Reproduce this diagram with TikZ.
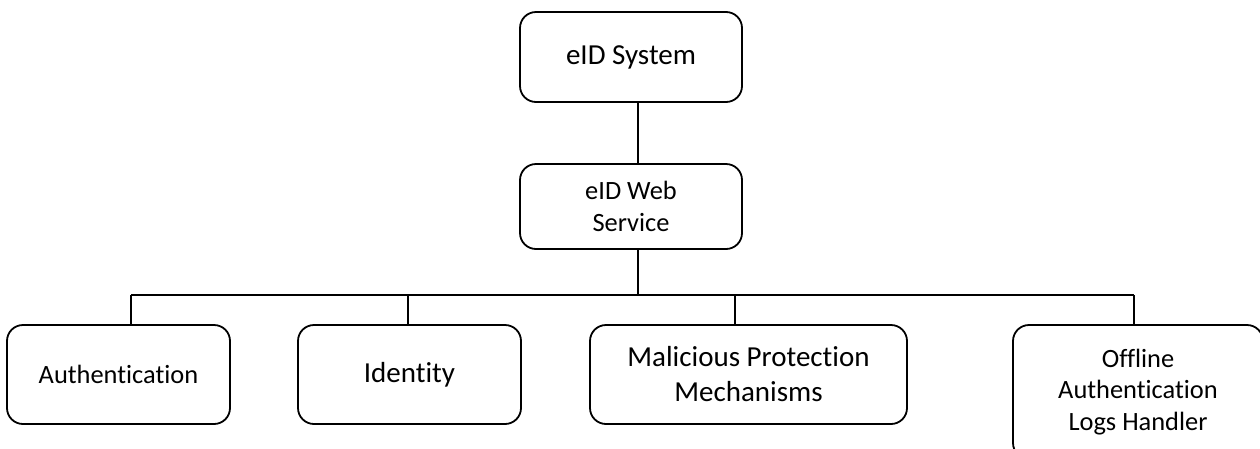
\documentclass[tikz,border=0pt]{standalone}
\usepackage{fontspec}
\setmainfont{Carlito}[Ligatures={NoCommon}]
\begin{document}
\begin{tikzpicture}[x=1pt,y=-1pt,
  box/.style={draw, line width=1.8pt, rounded corners=16pt, align=center,
              inner sep=0pt, font=\fontsize{26.4}{32}\selectfont},
  link/.style={line width=1.8pt}]
\useasboundingbox (0,0) rectangle (1260,448);
\clip (0,0) rectangle (1260,448);

% top of the hierarchy
\node[box, minimum width=222pt, minimum height=90pt, font=\fontsize{29}{34}\selectfont]
  (sys) at (631,57) {\raisebox{-3pt}{eID System}};
\node[box, minimum width=222pt, minimum height=85pt] (ws) at (631,206.5) {eID Web\\Service};

% components
\node[box, minimum width=223pt, minimum height=99pt] (auth) at (118.5,374.5)
  {\raisebox{-3pt}{Authentication}};
\node[box, minimum width=223pt, minimum height=99pt, font=\fontsize{29}{34}\selectfont]
  (ident) at (409.5,374.5) {\raisebox{-4pt}{Identity}};
\node[box, minimum width=317pt, minimum height=99pt, font=\fontsize{29}{35}\selectfont]
  (mal) at (748.5,374.5) {\raisebox{-3pt}{Malicious Protection}\\\raisebox{-3pt}{Mechanisms}};
\node[box, minimum width=250pt, minimum height=134pt, font=\fontsize{26.4}{31.5}\selectfont]
  (off) at (1138,392) {Offline\\Authentication\\Logs Handler};

% bus taps
\coordinate (hub) at (638,295);
\coordinate (tA) at (131,295);
\coordinate (tI) at (408,295);
\coordinate (tM) at (735,295);
\coordinate (tO) at (1134,295);

\draw[link] (sys.south -| hub) -- (ws.north -| hub);
\draw[link] (ws.south -| hub) -- (hub);
\draw[link] (tA) -- (tO);
\draw[link] (tA) -- (tA |- auth.north);
\draw[link] (tI) -- (tI |- ident.north);
\draw[link] (tM) -- (tM |- mal.north);
\draw[link] (tO) -- (tO |- off.north);
\end{tikzpicture}
\end{document}
